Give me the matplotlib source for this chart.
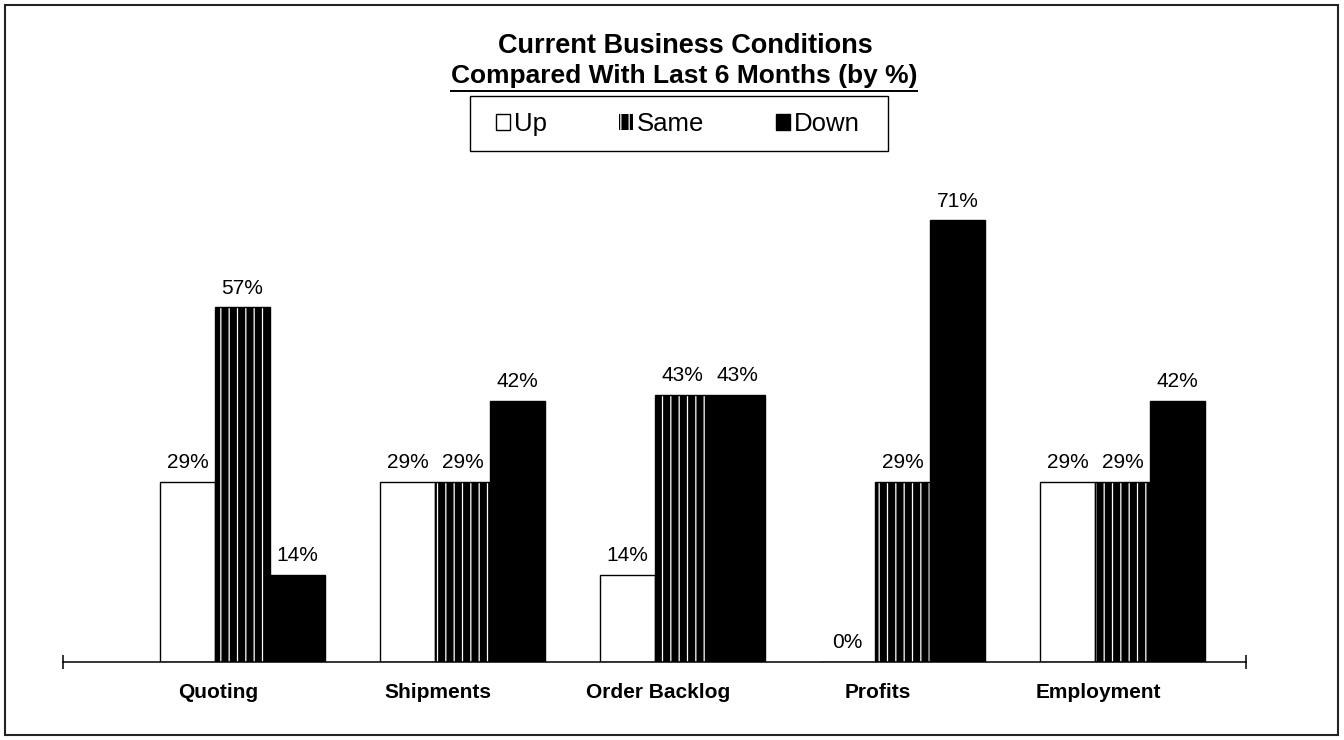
#!/usr/bin/env python3
# -*- coding: UTF-8 -*-

"""
    Current business conditions bar chart (Up / Same / Down by %)
"""

import numpy as np
import matplotlib
matplotlib.use("Agg")
import matplotlib.pyplot as plt
from matplotlib.patches import Rectangle
from matplotlib.lines import Line2D

categories = ["Quoting", "Shipments", "Order Backlog", "Profits", "Employment"]
series_names = ["Up", "Same", "Down"]
up_values = [29, 29, 14, 0, 29]
same_values = [57, 29, 43, 29, 29]
down_values = [14, 42, 43, 71, 42]

title_line1 = "Current Business Conditions"
title_line2 = "Compared With Last 6 Months (by %)"

plt.rcParams['font.family'] = ['Liberation Sans', 'DejaVu Sans']
plt.rcParams['hatch.linewidth'] = 0.9

W, H = 1344, 740
fig = plt.figure(figsize=(W / 100, H / 100), dpi=100)

# axes placed in pixel terms: x axis from 63 to 1246 px, baseline at y=662 px
ax = fig.add_axes([63 / W, 78 / H, 1183 / W, 80 * 6.22 / H])

x = np.arange(len(categories))
bw = 0.25
ax.bar(x - bw, up_values, bw, color='white', edgecolor='black', linewidth=1.0)
# hatched "Same" bars: black with white vertical stripes, then a black outline
ax.bar(x, same_values, bw, color='black', edgecolor='white', hatch='||', linewidth=0)
ax.bar(x, same_values, bw, color='none', edgecolor='black', linewidth=1.0)
ax.bar(x + bw, down_values, bw, color='black', edgecolor='black', linewidth=1.0)

for offs, vals in zip([-bw, 0, bw], [up_values, same_values, down_values]):
    for xi, v in zip(x, vals):
        ax.annotate("{}%".format(v), (xi + offs, v), xytext=(0, 7),
                    textcoords='offset points', ha='center', va='bottom',
                    fontsize=15)

ax.set_xlim((63 - 242.5) / 220, (1246 - 242.5) / 220)
ax.set_ylim(0, 80)
for s in ['top', 'left', 'right']:
    ax.spines[s].set_visible(False)
ax.spines['bottom'].set_linewidth(1.1)
ax.set_yticks([])
ax.set_xticks(x - 0.11)
ax.set_xticklabels(categories, fontsize=15, fontweight='bold')
ax.tick_params(axis='x', length=0, pad=15)
ax.set_xticks(list(ax.get_xlim()), minor=True)
ax.tick_params(axis='x', which='minor', direction='inout', length=10, width=1.1)

# title with underlined second line
fig.text(685 / W, 1 - 46 / H, title_line1, ha='center', va='center',
         fontsize=19.5, fontweight='bold')
t2 = fig.text(684 / W, 1 - 76 / H, title_line2, ha='center', va='center',
              fontsize=19, fontweight='bold')
fig.canvas.draw()
bb = t2.get_window_extent()
fig.add_artist(Line2D([bb.x0 / W, bb.x1 / W], [(H - 91) / H] * 2,
                      color='black', linewidth=1.4, transform=fig.transFigure))

# legend, with its box drawn separately (wider than tall padding)
handles = [Rectangle((0, 0), 1, 1, facecolor='white', edgecolor='black', linewidth=1.0),
           Rectangle((0, 0), 1, 1, facecolor='black', edgecolor='white', hatch='||', linewidth=0),
           Rectangle((0, 0), 1, 1, facecolor='black', edgecolor='black', linewidth=1.0)]
leg = fig.legend(handles, series_names, loc='center', bbox_to_anchor=(678 / W, 1 - 124 / H),
                 ncol=3, fontsize=18.5, frameon=False,
                 handlelength=0.55, handleheight=0.55, handletextpad=0.15,
                 columnspacing=2.8, borderpad=0.2, borderaxespad=0)
fig.add_artist(Rectangle((470 / W, 1 - 151 / H), 418 / W, 55 / H, transform=fig.transFigure,
                         fill=False, edgecolor='black', linewidth=1.0))

# outer border of the chart area
fig.add_artist(Rectangle((5 / W, 5 / H), 1333 / W, 730 / H, transform=fig.transFigure,
                         fill=False, edgecolor='#222222', linewidth=1.5))

fig.savefig("out.png", dpi=100)
